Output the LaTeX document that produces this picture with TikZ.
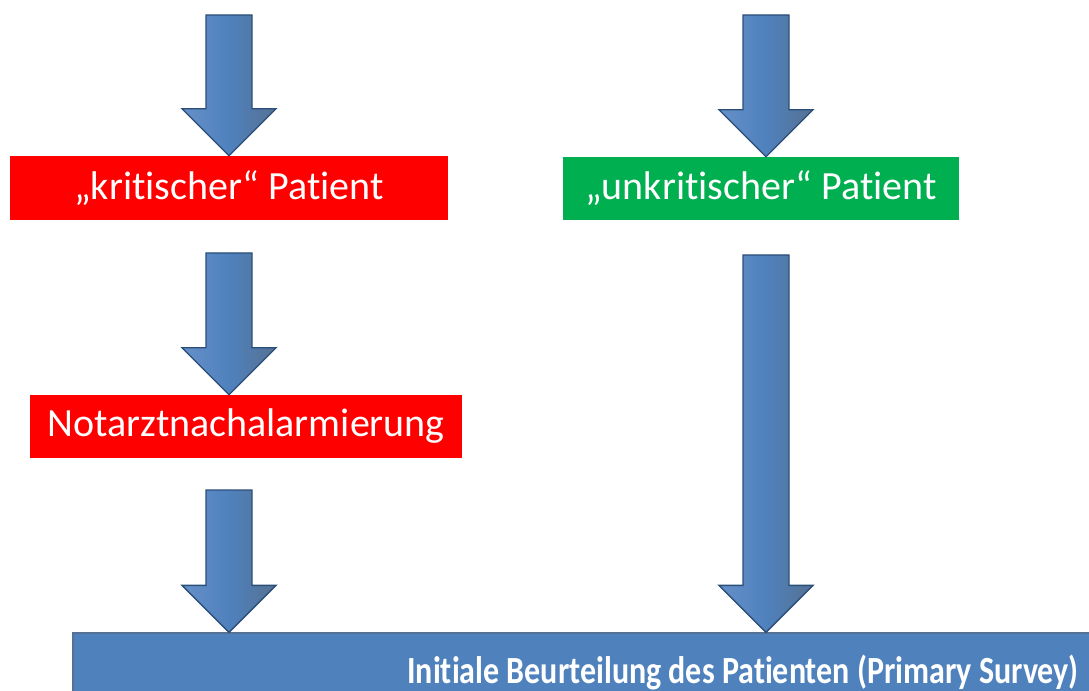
\documentclass[tikz,border=0pt]{standalone}
\usepackage{fontspec}
\setmainfont{Carlito}[Ligatures={NoCommon}]
\usetikzlibrary{calc}

\definecolor{boxred}{HTML}{FF0000}
\definecolor{boxgreen}{HTML}{00B050}
\definecolor{arrowblue}{HTML}{4F81BD}
\definecolor{arrowlight}{HTML}{6690C8}
\definecolor{arrowdark}{HTML}{2B4E78}

% block arrow from start coordinate #1 down to tip #2
\newcommand{\blockarrow}[2]{%
  \draw[blockarr] ($(#1)+(-23,0)$) -- ($(#2)+(-23,-47)$) -- ($(#2)+(-47,-47)$)
    -- (#2) -- ($(#2)+(47,-47)$) -- ($(#2)+(23,-47)$) -- ($(#1)+(23,0)$) -- cycle;
}

\begin{document}
\begin{tikzpicture}[
      x=0.75pt,y=-0.75pt,
      box/.style={
        rectangle,inner sep=0pt,text=white,font=\fontsize{30}{34}\selectfont
      },
      blockarr/.style={
        left color=arrowlight,right color=arrowdark!80,middle color=arrowblue,
        draw=arrowdark,line width=1pt,line join=miter
      },
    ]
    \useasboundingbox (0,0) rectangle (1089,691);

    \node[box,fill=boxred,minimum width=438*0.75pt,minimum height=64*0.75pt] (crit) at (229,188) {„kritischer“ Patient};
    \node[box,fill=boxgreen,minimum width=396*0.75pt,minimum height=63*0.75pt] (uncrit) at (761,188.5) {„unkritischer“ Patient};
    \node[box,fill=boxred,minimum width=432*0.75pt,minimum height=63*0.75pt] (na) at (246,426.5) {Notarztnachalarmierung};
    \node[rectangle,inner sep=0pt,fill=arrowblue,draw=arrowdark!80,line width=1pt,
      minimum width=1020*0.75pt,minimum height=62*0.75pt] (survey) at (583,664) {};
    \node[anchor=base east,inner sep=0pt,text=white,font=\bfseries\fontsize{24}{28}\selectfont] (surveytext) at (1079,683) {\scalebox{1}[1.2]{Initiale Beurteilung des Patienten (Primary Survey)}};

    \coordinate (a1) at (229,15);
    \coordinate (a2) at (766,15);
    \coordinate (a3) at (229,253);
    \coordinate (a4) at (229,490);
    \coordinate (a5) at (766,255);

    \blockarrow{a1}{crit.north}
    \blockarrow{a2}{a2 |- uncrit.north}
    \blockarrow{a3}{na.north -| a3}
    \blockarrow{a4}{a4 |- survey.north}
    \blockarrow{a5}{a5 |- survey.north}
  \end{tikzpicture}
\end{document}
